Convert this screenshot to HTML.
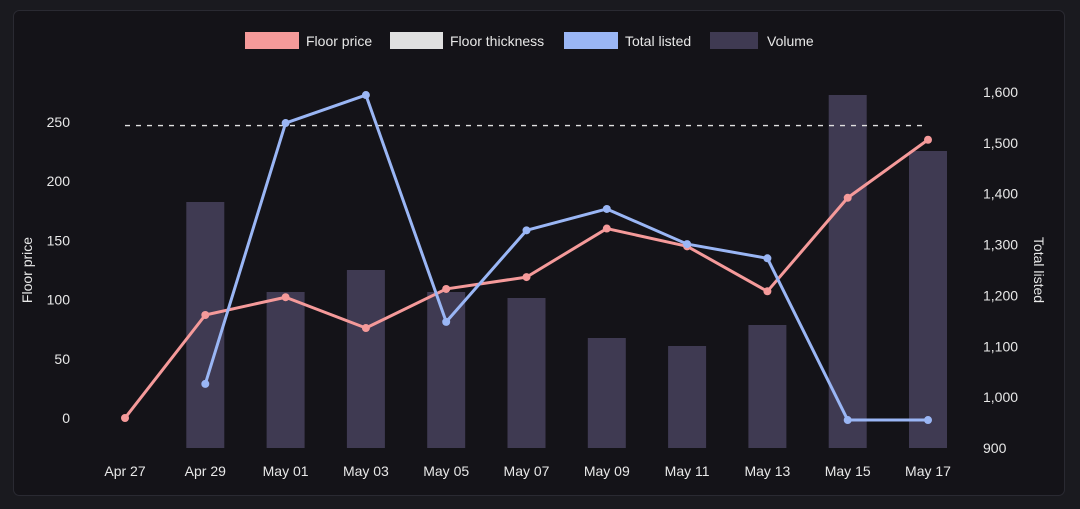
<!DOCTYPE html>
<html><head><meta charset="utf-8"><style>
html,body{margin:0;padding:0;background:#1a1a1f;width:1080px;height:509px;overflow:hidden}
svg{display:block;font-family:"Liberation Sans",sans-serif}
</style></head><body>
<svg id="chart" width="1080" height="509">
<rect x="13.5" y="10.5" width="1051" height="485" rx="6" fill="#141318" stroke="#2a2a32"/>
<g id="legend">
 <g><rect x="245" y="32" width="54" height="17" fill="#f59a9a"/><text x="306" y="46" fill="#e8e8e8" font-size="14">Floor price</text></g>
 <g><rect x="390" y="32" width="53" height="17" fill="#e0e0e0"/><text x="450" y="46" fill="#e8e8e8" font-size="14">Floor thickness</text></g>
 <g><rect x="564" y="32" width="54" height="17" fill="#9ab6f5"/><text x="625" y="46" fill="#e8e8e8" font-size="14">Total listed</text></g>
 <g><rect x="710" y="32" width="48" height="17" fill="#3f3a52"/><text x="767" y="46" fill="#e8e8e8" font-size="14">Volume</text></g>
</g>
<text transform="translate(32,270) rotate(-90)" text-anchor="middle" fill="#e8e8e8" font-size="14">Floor price</text>
<text transform="translate(1034,270) rotate(90)" text-anchor="middle" fill="#e8e8e8" font-size="14">Total listed</text>
<g id="g"></g>
</svg>
<script>
const categories=["Apr 27","Apr 29","May 01","May 03","May 05","May 07","May 09","May 11","May 13","May 15","May 17"];
const floorPrice=[0,87,102,76,109,119,160,145,107,186,235];
const totalListed=[null,1026,1539,1594,1148,1328,1370,1301,1273,955,955];
const volume=[null,246,156,178,156,150,110,102,123,353,297];
const floorThickness=247;
const leftTicks=[0,50,100,150,200,250];
const rightTicks=[900,1000,1100,1200,1300,1400,1500,1600];
const NS="http://www.w3.org/2000/svg";
const g=document.getElementById('g');
const x=i=>125+i*(928-125)/(categories.length-1);
const yL=v=>418-v*(418-122)/250;
const yR=v=>448-(v-900)*(448-92)/700;
const yV=v=>448-v*(448-95)/353;
function mk(t,a){const e=document.createElementNS(NS,t);for(const k in a)e.setAttribute(k,a[k]);g.appendChild(e);return e;}
volume.forEach((v,i)=>{if(v==null)return;const r=mk('rect',{x:x(i)-19,y:yV(v),width:38,height:448-yV(v),fill:'#3f3a52'});

});
leftTicks.forEach(t=>{const e=mk('text',{x:70,y:yL(t)+5,'text-anchor':'end',fill:'#e8e8e8','font-size':14});e.textContent=t;

});
rightTicks.forEach(t=>{const e=mk('text',{x:983,y:yR(t)+5,fill:'#e8e8e8','font-size':14});e.textContent=t.toLocaleString('en-US');

});
categories.forEach((c,i)=>{const e=mk('text',{x:x(i),y:476,'text-anchor':'middle',fill:'#e8e8e8','font-size':14});e.textContent=c;

});
const th=mk('line',{x1:x(0),x2:x(categories.length-1),y1:yL(floorThickness),y2:yL(floorThickness),stroke:'#e0e0e0','stroke-width':1.3,'stroke-dasharray':'5,6'});


function series(vals,yf,col,name){const pts=[];vals.forEach((v,i)=>{if(v!=null)pts.push([x(i),yf(v)]);});
const p=mk('polyline',{points:pts.map(p=>p.join(',')).join(' '),fill:'none',stroke:col,'stroke-width':3,'stroke-linejoin':'round'});


pts.forEach(q=>{const c=mk('circle',{cx:q[0],cy:q[1],r:4,fill:col});

});}
series(floorPrice,yL,'#f59a9a','floor-price');
series(totalListed,yR,'#9ab6f5','total-listed');
</script>
</body></html>
